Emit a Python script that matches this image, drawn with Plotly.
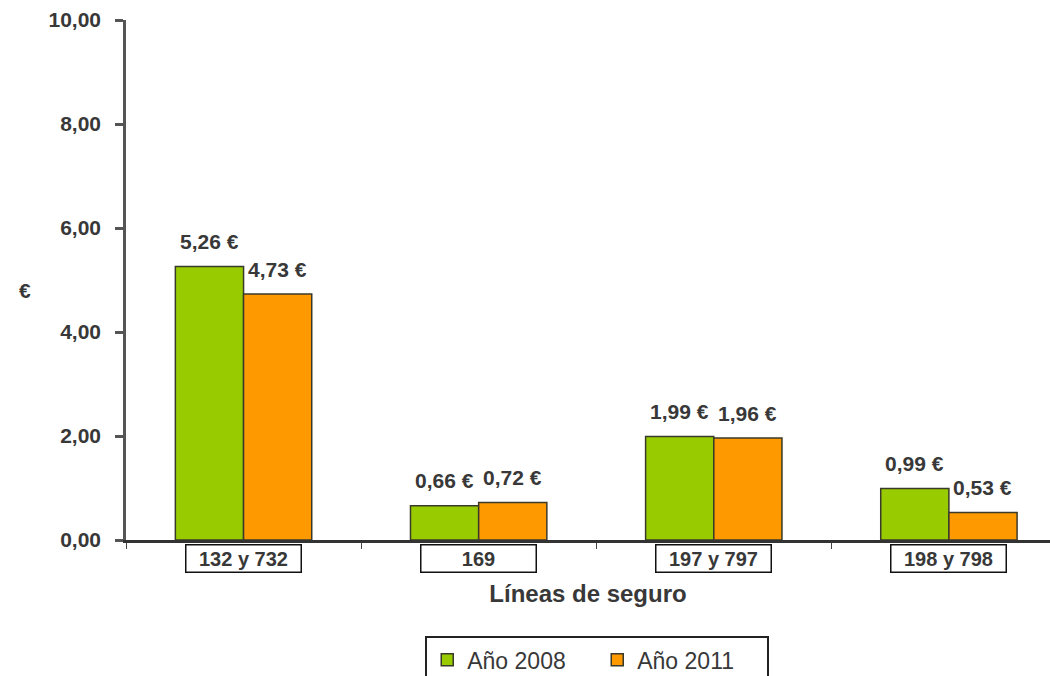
import plotly.graph_objects as go

categories = ["132 y 732", "169", "197 y 797", "198 y 798"]
series_names = ["Año 2008", "Año 2011"]
values_2008 = [5.26, 0.66, 1.99, 0.99]
values_2011 = [4.73, 0.72, 1.96, 0.53]
label_2008 = ["5,26 €", "0,66 €", "1,99 €", "0,99 €"]
label_2011 = ["4,73 €", "0,72 €", "1,96 €", "0,53 €"]
y_ticks = [0, 2, 4, 6, 8, 10]

FONT = "Liberation Sans, Arial, sans-serif"
TXT = "#383838"

fig = go.Figure()
fig.add_trace(go.Bar(name=series_names[0], x=categories, y=values_2008,
                     marker=dict(color="#99cc00", line=dict(color="#3a3a2a", width=1.5))))
fig.add_trace(go.Bar(name=series_names[1], x=categories, y=values_2011,
                     marker=dict(color="#ff9900", line=dict(color="#3a3a2a", width=1.5))))

annotations = []
for i, (v, t) in enumerate(zip(values_2008, label_2008)):
    annotations.append(dict(x=i, y=v, xref="x", yref="y", text=t, showarrow=False,
                            xshift=-34, yshift=25, yanchor="middle",
                            font=dict(family=FONT, size=21, color=TXT, weight="bold")))
for i, (v, t) in enumerate(zip(values_2011, label_2011)):
    annotations.append(dict(x=i, y=v, xref="x", yref="y", text=t, showarrow=False,
                            xshift=34, yshift=25, yanchor="middle",
                            font=dict(family=FONT, size=21, color=TXT, weight="bold")))
for i, c in enumerate(categories):
    annotations.append(dict(x=i, y=0, xref="x", yref="y", text=c, showarrow=False,
                            yanchor="top", yshift=-4, width=112, height=24,
                            bordercolor="#111111", borderwidth=1.5, bgcolor="white",
                            font=dict(family=FONT, size=20, color=TXT, weight="bold")))
# y-axis title
annotations.append(dict(x=-0.109, y=0.48, xref="paper", yref="paper", text="€",
                        showarrow=False, xanchor="center", yanchor="middle",
                        font=dict(family=FONT, size=21, color=TXT, weight="bold")))
fig.update_layout(annotations=annotations)

fig.update_layout(
    width=1050, height=676,
    margin=dict(l=126, r=0, t=20, b=136, autoexpand=False),
    paper_bgcolor="white", plot_bgcolor="white",
    barmode="group", bargap=0.42, bargroupgap=0,
    separators=",.",
    font=dict(family=FONT, color=TXT),
    showlegend=True,
    legend=dict(orientation="h", x=0.51, xanchor="center", y=-0.185, yanchor="top",
                bordercolor="#222222", borderwidth=2,
                font=dict(family=FONT, size=23, color=TXT),
                entrywidth=125, traceorder="normal"),
    xaxis=dict(type="category", range=[-0.5, 3.43], showticklabels=False,
               tickson="boundaries", automargin=False,
               ticks="outside", ticklen=6, tickcolor="#444444",
               showline=True, linecolor="#333333", linewidth=3, showgrid=False,
               title=dict(text="Líneas de seguro", standoff=44,
                          font=dict(family=FONT, size=24, color=TXT, weight="bold"))),
    yaxis=dict(range=[0, 10], tickvals=y_ticks, tickformat=".2f", automargin=False,
               ticks="outside", ticklen=8, tickcolor="#555555", tickwidth=2.5,
               ticklabelstandoff=10,
               showline=True, linecolor="#555555", linewidth=2.5, showgrid=False,
               zeroline=False,
               tickfont=dict(family=FONT, size=21, color=TXT, weight="bold")),
)

fig.write_html("out.html", config={"displayModeBar": False},
               post_script="document.body.style.margin='0';document.body.style.overflow='hidden';")
